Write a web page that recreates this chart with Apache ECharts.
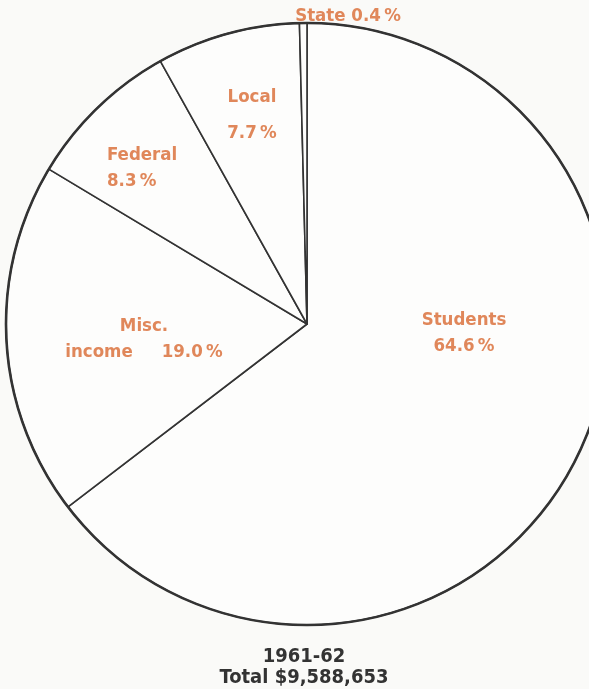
<!DOCTYPE html>
<html>
<head>
<meta charset="utf-8">
<script src="https://cdn.jsdelivr.net/npm/echarts@6/dist/echarts.min.js"></script>
<style>
  html, body { margin: 0; padding: 0; background: #fafaf8; }
  #main { width: 589px; height: 689px; }
</style>
</head>
<body>
<div id="main"></div>
<script>
// sources of income, clockwise from the top
const categories = ['Students', 'Misc. income', 'Federal', 'Local', 'State'];
const shares = [64.6, 19.0, 8.3, 7.7, 0.4]; // percent
const yearLabel = '1961-62';
const totalLabel = 'Total $9,588,653';

const orange = '#e0875a';
const ink = '#333333';
const face = '"DejaVu Sans Condensed", "DejaVu Sans", sans-serif';

// where each label sits (label layout only)
const labelSpots = [
    { x: 464, y: 333, align: 'center' },
    { x: 144, y: 339, align: 'center' },
    { x: 107, y: 168, align: 'left' },
    { x: 252, y: 115, align: 'center' },
    { x: 348, y: 16, align: 'center' }
];

function pct (v) {
    return v.toFixed(1) + '\u2009%';
}

function labelText (p) {
    const name = p.name;
    const v = pct(p.value);
    if (p.dataIndex === 1) {
        const parts = name.split(' ');
        return parts[0] + '\n' + parts[1] + '     ' + v;
    }
    if (p.dataIndex === 4) return name + ' ' + v;
    return name + '\n' + v;
}

const myChart = echarts.init(document.getElementById('main'));
myChart.setOption({
    backgroundColor: '#fafaf8',
    animation: false,
    title: {
        text: yearLabel + '\n' + totalLabel,
        left: 299,
        top: 641,
        textAlign: 'center',
        textStyle: {
            color: ink,
            fontFamily: face,
            fontWeight: 'bold',
            fontSize: 20,
            lineHeight: 21
        }
    },
    series: [
        {
            type: 'pie',
            center: [307, 324],
            radius: [0, 301],
            startAngle: 90,
            clockwise: true,
            minAngle: 0,
            avoidLabelOverlap: false,
            silent: true,
            itemStyle: {
                color: '#fdfdfc',
                borderColor: ink,
                borderWidth: 1.6
            },
            label: {
                show: true,
                position: 'inside',
                formatter: labelText,
                color: orange,
                fontFamily: face,
                fontWeight: 'bold',
                fontSize: 18.5,
                lineHeight: 26
            },
            labelLine: { show: false },
            labelLayout: function (params) {
                const s = labelSpots[params.dataIndex];
                return { x: s.x, y: s.y, align: s.align, verticalAlign: 'middle' };
            },
            data: categories.map(function (c, i) {
                const item = { name: c, value: shares[i] };
                if (i === 3) item.label = { lineHeight: 36 };
                return item;
            })
        },
        {
            // heavier outer rim
            type: 'pie',
            center: [307, 324],
            radius: [0, 301],
            silent: true,
            z: 3,
            label: { show: false },
            labelLine: { show: false },
            itemStyle: {
                color: 'rgba(0,0,0,0)',
                borderColor: ink,
                borderWidth: 2.6
            },
            data: [{ name: 'total', value: shares.reduce(function (a, b) { return a + b; }, 0) }]
        }
    ]
});
</script>
</body>
</html>
